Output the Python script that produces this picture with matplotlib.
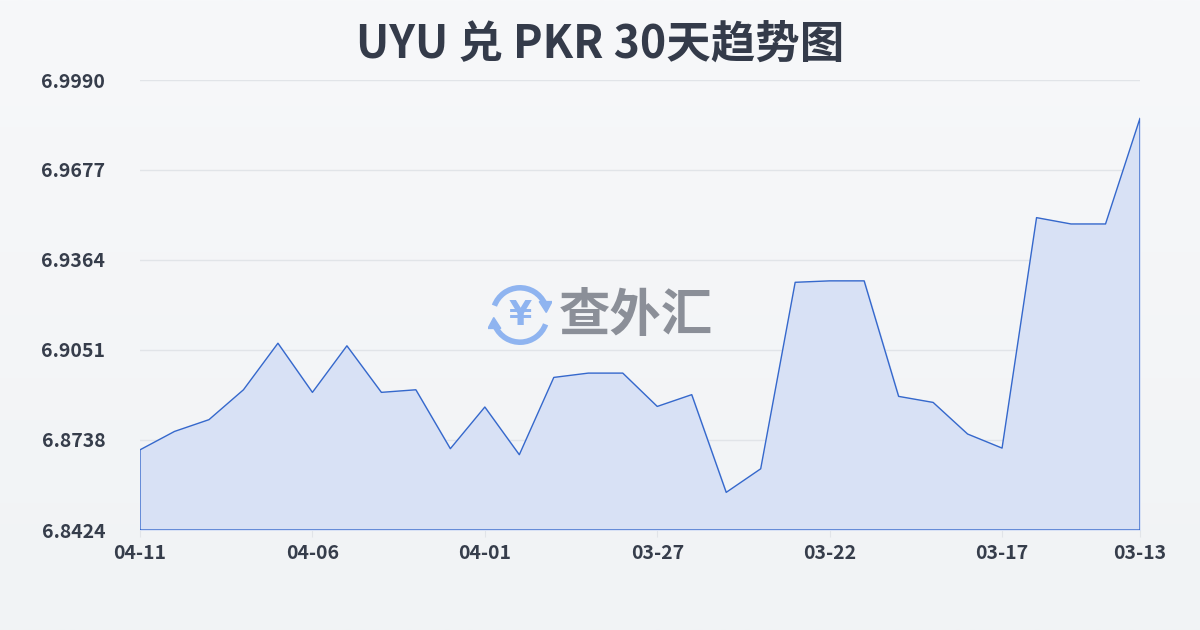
import matplotlib
matplotlib.use("Agg")
import matplotlib.pyplot as plt
import numpy as np
from matplotlib.patches import Arc, Polygon
from matplotlib.colors import LinearSegmentedColormap

plt.rcParams['font.family'] = ['Noto Sans CJK SC', 'DejaVu Sans']

dates = ["04-11", "04-10", "04-09", "04-08", "04-07", "04-06", "04-05", "04-04", "04-03", "04-02",
         "04-01", "03-31", "03-30", "03-29", "03-28", "03-27", "03-26", "03-25", "03-24", "03-23",
         "03-22", "03-21", "03-20", "03-19", "03-18", "03-17", "03-16", "03-15", "03-14", "03-13"]
rates = [6.8703, 6.8767, 6.8808, 6.8912, 6.9074, 6.8903, 6.9065, 6.8903, 6.8912, 6.8707,
         6.8852, 6.8686, 6.8955, 6.8970, 6.8970, 6.8854, 6.8895, 6.8555, 6.8637, 6.9286,
         6.9291, 6.9291, 6.8889, 6.8868, 6.8758, 6.8709, 6.9511, 6.9489, 6.9489, 6.9857]
yticks = [6.8424, 6.8738, 6.9051, 6.9364, 6.9677, 6.9990]
xtick_idx = [0, 5, 10, 15, 20, 25, 29]
title = "UYU 兑 PKR 30天趋势图"

W, H = 1200, 630
fig = plt.figure(figsize=(12, 6.3), dpi=100)

# background gradient
bg = fig.add_axes([0, 0, 1, 1], zorder=-10)
grad = np.linspace(0, 1, 256).reshape(-1, 1)
cmap = LinearSegmentedColormap.from_list("bg", ["#f7f8fa", "#f1f3f5"])
bg.imshow(grad, aspect='auto', cmap=cmap, extent=[0, 1, 0, 1], origin='upper')
bg.axis('off')

ax = fig.add_axes([140 / W, (H - 530) / H, 1000 / W, 450 / H])
ax.set_facecolor('none')
x = np.arange(len(rates))
ymin, ymax = yticks[0], yticks[-1]
ax.fill_between(x, rates, ymin, color='#d8e1f5', alpha=1.0, zorder=2)
ox = np.concatenate([[x[0]], x, [x[-1], x[0]]])
oy = np.concatenate([[ymin], rates, [ymin, ymin]])
ax.plot(ox, oy, color='#3568cc', lw=1.0, zorder=3)

ax.set_xlim(0, len(rates) - 1)
ax.set_ylim(ymin, ymax)
ax.set_yticks(yticks)
ax.set_yticklabels([f"{v:.4f}" for v in yticks])
ax.set_xticks(xtick_idx)
ax.set_xticklabels([dates[i] for i in xtick_idx])
ax.grid(axis='y', color='#e1e4e8', lw=1.0, zorder=1)
for s in ax.spines.values():
    s.set_visible(False)
ax.tick_params(axis='y', length=0, pad=25, labelsize=14, labelcolor='#363d4b')
ax.tick_params(axis='x', length=5, color='#e1e4e8', pad=5, labelsize=14, labelcolor='#363d4b')
for lbl in ax.get_yticklabels() + ax.get_xticklabels():
    lbl.set_fontweight('bold')

fig.text(0.5, 1 - 45 / H, title, ha='center', va='center', fontsize=32,
         fontweight='bold', color='#343b4a')

# watermark
fig.text(559 / W, 1 - 315 / H, "查外汇", ha='left', va='center', fontsize=37,
         fontweight='bold', color='#868a93', alpha=0.95)
ic = fig.add_axes([(520 - 32) / W, 1 - (315 + 32) / H, 64 / W, 64 / H])
ic.set_xlim(-1, 1)
ic.set_ylim(-1, 1)
ic.set_aspect('equal')
ic.axis('off')
blue = '#8fb4f0'
ic.add_patch(Arc((0, 0), 1.7, 1.7, theta1=25, theta2=160, color=blue, lw=4))
ic.add_patch(Arc((0, 0), 1.7, 1.7, theta1=205, theta2=340, color=blue, lw=4))
ic.add_patch(Polygon([[0.6, 0.42], [1.0, 0.42], [0.82, 0.08]], closed=True, color=blue))
ic.add_patch(Polygon([[-0.6, -0.42], [-1.0, -0.42], [-0.82, -0.08]], closed=True, color=blue))
ic.text(0, -0.02, "¥", ha='center', va='center', fontsize=24, fontweight='bold', color=blue,
        family=['DejaVu Sans'])

fig.savefig("out.png", dpi=100)
